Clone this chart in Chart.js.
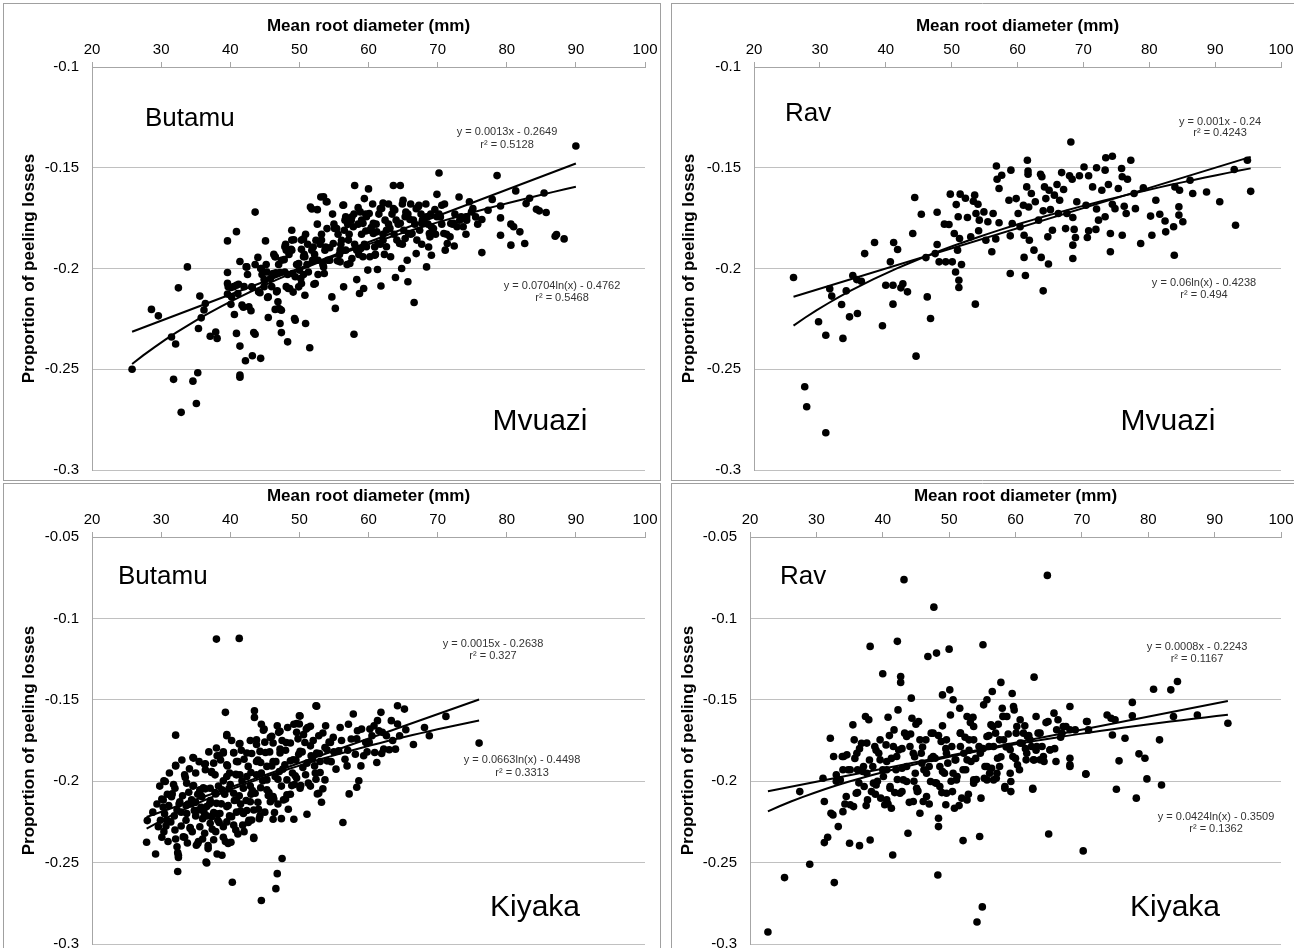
<!DOCTYPE html>
<html>
<head>
<meta charset="utf-8">
<script src="https://cdn.jsdelivr.net/npm/chart.js@4.4.1/dist/chart.umd.min.js"></script>
<style>
html, body { margin: 0; padding: 0; background: #fff; }
body { width: 1294px; height: 948px; position: relative; overflow: hidden; }
.panel { position: absolute; }
</style>
</head>
<body>
<div class="panel" style="left:3px;top:3px"><canvas id="c1" width="658" height="478"></canvas></div>
<div class="panel" style="left:671px;top:3px"><canvas id="c2" width="623" height="478"></canvas></div>
<div class="panel" style="left:3px;top:483px"><canvas id="c3" width="658" height="465"></canvas></div>
<div class="panel" style="left:671px;top:483px"><canvas id="c4" width="623" height="465"></canvas></div>
<script>
// x ticks, y ticks
var xTicks = [20, 30, 40, 50, 60, 70, 80, 90, 100]
var yTicksMvuazi = [-0.3, -0.25, -0.2, -0.15, -0.1]
var yTicksKiyaka = [-0.3, -0.25, -0.2, -0.15, -0.1, -0.05]

// trendline coefficients read from the equations [a, b]
var linMvuaziButamu = [0.0013, -0.2649], logMvuaziButamu = [0.0704, -0.4762]
var linMvuaziRav = [0.001, -0.24], logMvuaziRav = [0.06, -0.4238]
var linKiyakaButamu = [0.0015, -0.2638], logKiyakaButamu = [0.0663, -0.4498]
var linKiyakaRav = [0.0008, -0.2243], logKiyakaRav = [0.0424, -0.3509]

// [mean root diameter, proportion of peeling losses]
var mvuaziButamu = [
[25.8,-0.250],[28.6,-0.2203],[29.6,-0.2235],[31.5,-0.234],[32.1,-0.2375],[31.8,-0.255],[32.9,-0.2714],[32.5,-0.2096],[33.8,-0.1992],[34.6,-0.2559],
[35.3,-0.2517],[35.1,-0.267],[35.6,-0.2137],[35.8,-0.2245],[35.4,-0.2298],[36.4,-0.2174],[36.2,-0.2206],[37.1,-0.2336],[37.9,-0.2315],[38.1,-0.2347],
[39.6,-0.1863],[39.6,-0.202],[39.6,-0.2074],[40.1,-0.2094],[39.6,-0.2127],[40.1,-0.2178],[40.9,-0.1817],[41.2,-0.2078],[41.1,-0.2124],[40.6,-0.2228],
[40.9,-0.2322],[41.4,-0.2385],[41.4,-0.2529],[41.4,-0.254],[41.4,-0.1965],[42.3,-0.1992],[41.9,-0.2192],[42.7,-0.219],[43.0,-0.221],[42.2,-0.2458],
[43.2,-0.2433],[43.4,-0.2318],[43.6,-0.2326],[43.6,-0.172],[44.0,-0.1945],[44.3,-0.212],[43.2,-0.2094],[44.4,-0.2446],[44.4,-0.2],[45.1,-0.1863],
[44.9,-0.2055],[45.4,-0.2144],[45.5,-0.2243],[45.8,-0.205],[46.5,-0.1942],[46.6,-0.2021],[46.8,-0.2111],[46.9,-0.2165],[46.5,-0.2203],[47.2,-0.2203],
[47.2,-0.2273],[47.4,-0.2318],[47.8,-0.1956],[47.2,-0.202],[48.1,-0.1909],[48.3,-0.2364],[48.6,-0.2099],[48.9,-0.181],[49.2,-0.1857],[48.8,-0.1905],
[49.0,-0.2025],[49.3,-0.2248],[49.1,-0.2117],[49.9,-0.2091],[50.0,-0.2008],[50.2,-0.205],[50.3,-0.1905],[50.6,-0.1942],[50.6,-0.1853],[50.8,-0.2133],
[50.9,-0.2273],[51.5,-0.2393],[51.6,-0.1695],[51.8,-0.1705],[52.0,-0.1893],[52.1,-0.2078],[51.9,-0.1959],[52.4,-0.186],[52.6,-0.1708],[53.1,-0.1645],
[53.5,-0.1992],[53.6,-0.2025],[53.8,-0.1893],[53.9,-0.1669],[54.0,-0.1802],[54.1,-0.1959],[54.4,-0.1897],[54.7,-0.2141],[55.2,-0.2198],[55.4,-0.1802],
[55.5,-0.1962],[56.1,-0.186],[56.3,-0.1686],[56.5,-0.181],[56.4,-0.2091],[56.7,-0.1744],[56.7,-0.1909],[57.0,-0.1781],[57.3,-0.1975],[57.5,-0.176],
[58.0,-0.1588],[57.9,-0.2326],[58.3,-0.2055],[58.5,-0.1698],[58.7,-0.2124],[58.9,-0.1901],[59.0,-0.176],[59.3,-0.2099],[59.4,-0.1653],[59.6,-0.1814],
[60.0,-0.1605],[60.1,-0.1727],[59.9,-0.2008],[60.2,-0.1942],[60.4,-0.1797],[60.7,-0.1826],[60.9,-0.1893],[61.3,-0.2005],[61.7,-0.1703],[61.8,-0.2087],
[62.1,-0.1675],[62.1,-0.186],[62.6,-0.181],[63.2,-0.1942],[63.6,-0.1588],[63.6,-0.1703],[63.9,-0.2045],[64.0,-0.176],[64.6,-0.1588],[64.5,-0.1876],
[64.8,-0.2],[65.0,-0.1661],[65.1,-0.181],[65.4,-0.172],[65.6,-0.1959],[65.7,-0.2066],[66.0,-0.1757],[66.3,-0.1826],[66.6,-0.2169],[66.9,-0.1926],
[66.9,-0.1703],[67.3,-0.1686],[67.4,-0.181],[67.8,-0.176],[68.4,-0.1992],[68.7,-0.1893],[68.8,-0.1826],[69.1,-0.1934],[69.4,-0.1802],[69.6,-0.1708],
[69.9,-0.1632],[70.2,-0.1526],[70.4,-0.1744],[70.6,-0.1686],[70.9,-0.1826],[71.1,-0.1909],[71.4,-0.1876],[71.9,-0.1777],[72.4,-0.1888],[72.8,-0.1793],
[73.1,-0.1645],[73.4,-0.1744],[73.7,-0.1793],[74.2,-0.176],[74.6,-0.1669],[75.1,-0.1703],[75.5,-0.1744],[76.4,-0.1921],[76.4,-0.1757],[77.3,-0.1711],
[77.9,-0.1657],[78.6,-0.1539],[79.1,-0.169],[79.1,-0.1835],[79.1,-0.1749],[80.6,-0.178],[81.0,-0.1793],[80.6,-0.1884],[81.3,-0.1615],[81.9,-0.1818],
[82.6,-0.1876],[82.8,-0.1678],[83.3,-0.1651],[84.3,-0.1706],[84.7,-0.1714],[85.4,-0.1625],[85.7,-0.1722],[87.0,-0.184],[87.2,-0.1831],[88.3,-0.1853],
[90.0,-0.1392],
[53.5,-0.1644],[54.0,-0.1669],[55.1,-0.1801],[56.4,-0.1685],[56.6,-0.176],[57.6,-0.1743],[57.8,-0.1793],[58.8,-0.1719],[59.2,-0.1776],[59.7,-0.1743],
[60.2,-0.181],[60.7,-0.1776],[61.2,-0.1818],[61.9,-0.1702],[62.4,-0.176],[63.1,-0.1801],[63.8,-0.171],[64.6,-0.1776],[65.3,-0.1743],[65.8,-0.1826],
[66.5,-0.176],[67.2,-0.1694],[67.7,-0.1776],[68.4,-0.1743],[69.1,-0.1793],[69.9,-0.1743],[53.7,-0.1909],[54.9,-0.1876],[55.9,-0.1909],[57.1,-0.1859],
[58.3,-0.1909],[59.7,-0.1892],[61.4,-0.1876],[62.6,-0.1892],[64.1,-0.1859],[65.3,-0.1851],[67.0,-0.1859],[68.9,-0.1843],[54.4,-0.1959],[55.9,-0.1967],
[57.6,-0.195],[59.2,-0.1942],[60.9,-0.1934],[72.3,-0.1776],[73.2,-0.176],[74.2,-0.1743],[74.9,-0.1719],[71.8,-0.1843],
[39.7,-0.2091],[40.2,-0.2141],[40.9,-0.2083],[41.7,-0.2182],[42.4,-0.1992],[43.1,-0.2091],[44.1,-0.2116],[44.5,-0.2],[45.0,-0.2058],[45.5,-0.2141],
[46.2,-0.2025],[46.7,-0.2116],[47.0,-0.2199],[47.4,-0.1959],[47.9,-0.2017],[48.4,-0.2099],[48.9,-0.1909],[49.4,-0.2041],[49.9,-0.1975],[50.3,-0.2075],
[50.8,-0.1942],[51.3,-0.2017],[51.8,-0.1909],[52.3,-0.2075],[52.7,-0.1959],[53.2,-0.1859],[48.9,-0.1859],[50.3,-0.1859],[47.9,-0.1892],[46.5,-0.1942],
[45.3,-0.2017],[47.4,-0.2207],[49.4,-0.2257],
[60.6,-0.168],[62.9,-0.168],[64.9,-0.168],[66.1,-0.168],[68.3,-0.168],[71.0,-0.168],
[54.8,-0.173],[57.9,-0.173],[59.6,-0.173],[61.5,-0.173],[63.4,-0.173],[65.7,-0.173],[67.6,-0.173],[69.0,-0.173],[70.2,-0.173],[72.5,-0.173],
[52.6,-0.178],[55.0,-0.178],[58.5,-0.178],[61.1,-0.178],[62.9,-0.178],[64.3,-0.178],[66.7,-0.178],[68.6,-0.178],[70.6,-0.178],[72.2,-0.178],[75.8,-0.178],
[50.9,-0.183],[53.2,-0.183],[55.6,-0.183],[57.2,-0.183],[59.0,-0.183],[62.1,-0.183],[63.7,-0.183],[66.1,-0.183],[69.7,-0.183],[71.3,-0.183],[74.1,-0.183],
[48.0,-0.188],[51.2,-0.188],[53.0,-0.188],[56.0,-0.188],[58.0,-0.188],[59.4,-0.188],[61.7,-0.188],[64.9,-0.188],[67.7,-0.188],
[46.3,-0.193],[48.5,-0.193],[50.7,-0.193],[52.2,-0.193],[55.8,-0.193],[58.6,-0.193],[61.0,-0.193],[62.3,-0.193],
[43.6,-0.198],[45.2,-0.198],[47.0,-0.198],[49.6,-0.198],[51.1,-0.198],[53.4,-0.198],[56.9,-0.198],
[42.5,-0.203],[44.6,-0.203],[46.2,-0.203],[48.3,-0.203],[50.6,-0.203],[52.7,-0.203],
[40.5,-0.209],[42.0,-0.209],[44.9,-0.209],[46.0,-0.209],[48.1,-0.209]
]

var mvuaziRav = [
[26.0,-0.2045],[27.7,-0.2587],[28.0,-0.2686],[30.9,-0.2815],[31.5,-0.2101],[31.8,-0.2137],[29.8,-0.2264],[30.9,-0.2331],[33.3,-0.2179],[33.5,-0.2347],
[34.0,-0.2111],[34.5,-0.224],[35.0,-0.2035],[35.7,-0.2223],[35.6,-0.2055],[36.3,-0.2063],[36.8,-0.1926],[38.3,-0.1871],[39.5,-0.2284],[40.0,-0.2083],
[40.7,-0.1967],[41.1,-0.2083],[41.1,-0.2177],[41.2,-0.1871],[41.8,-0.1906],[42.3,-0.2096],[42.6,-0.2076],[43.3,-0.2116],[44.1,-0.1826],[44.4,-0.1648],
[44.6,-0.2435],[45.4,-0.1731],[46.1,-0.1946],[46.3,-0.2141],[46.8,-0.2248],[47.8,-0.1721],[47.8,-0.1881],[47.5,-0.1926],[48.1,-0.1967],[48.9,-0.178],
[49.1,-0.1967],[49.6,-0.1782],[49.8,-0.1631],[50.1,-0.1967],[50.4,-0.1826],[50.6,-0.2017],[50.7,-0.1683],[50.9,-0.1909],[51.0,-0.1743],[51.2,-0.1851],
[51.1,-0.2058],[51.1,-0.2094],[51.3,-0.1631],[51.5,-0.198],[52.1,-0.1651],[52.4,-0.1747],[52.9,-0.1843],[53.3,-0.1666],[53.5,-0.1636],[53.6,-0.2177],
[53.7,-0.1727],[54.0,-0.1681],[54.1,-0.1813],[54.2,-0.176],[54.9,-0.1719],[55.2,-0.186],[55.5,-0.1768],[56.1,-0.1917],[56.3,-0.1727],[56.7,-0.1853],
[56.8,-0.1491],[56.9,-0.1557],[57.2,-0.1603],[57.6,-0.1537],[57.2,-0.1773],[58.7,-0.1661],[58.9,-0.1838],[59.0,-0.1512],[58.9,-0.2025],[59.2,-0.1777],
[59.8,-0.1653],[60.1,-0.1727],[60.4,-0.1793],[60.9,-0.1686],[61.0,-0.1835],[61.0,-0.1945],[61.2,-0.2035],[61.4,-0.1595],[61.5,-0.1463],[61.6,-0.1516],
[61.6,-0.1532],[61.7,-0.1695],[61.8,-0.186],[62.1,-0.1628],[62.5,-0.1909],[62.7,-0.1669],[63.2,-0.176],[63.5,-0.1532],[63.6,-0.1945],[63.7,-0.1545],
[63.9,-0.1714],[63.9,-0.2111],[64.1,-0.1595],[64.3,-0.1653],[64.6,-0.1843],[64.7,-0.1978],[64.8,-0.1612],[65.0,-0.1708],[65.3,-0.181],[65.6,-0.1636],
[66.0,-0.1583],[66.2,-0.1727],[66.4,-0.1661],[66.7,-0.1524],[67.0,-0.1608],[67.3,-0.1802],[67.5,-0.1727],[67.9,-0.154],[68.1,-0.1372],[68.3,-0.1557],
[68.4,-0.1747],[68.4,-0.1884],[68.4,-0.195],[68.6,-0.1806],[68.8,-0.1846],[69.0,-0.1669],[69.4,-0.154],[70.1,-0.1496],[70.4,-0.1686],[70.6,-0.1846],
[70.8,-0.154],[70.8,-0.1813],[71.4,-0.1595],[71.9,-0.1806],[72.0,-0.1705],[72.0,-0.15],[72.3,-0.176],[72.8,-0.1612],[73.3,-0.1743],[73.3,-0.1512],
[73.4,-0.145],[73.8,-0.1583],[74.1,-0.1826],[74.1,-0.1917],[74.4,-0.1443],[74.4,-0.1681],[74.8,-0.1703],[75.3,-0.1603],[75.8,-0.1504],[75.9,-0.1545],
[75.9,-0.1835],[76.2,-0.1691],[76.5,-0.1727],[76.7,-0.1557],[77.2,-0.1463],[77.7,-0.1628],[77.9,-0.1703],[78.7,-0.1876],[79.1,-0.16],[80.2,-0.174],
[80.4,-0.1835],[81.0,-0.1661],[81.6,-0.1731],[82.4,-0.1764],[82.5,-0.1818],[83.7,-0.1793],[83.8,-0.1934],[83.9,-0.1595],[84.5,-0.1694],[84.5,-0.1735],
[84.6,-0.1612],[85.1,-0.1768],[86.2,-0.1562],[86.6,-0.1628],[88.7,-0.162],[90.7,-0.1669],[92.9,-0.1509],[93.1,-0.1785],[94.9,-0.1463],[95.4,-0.1617]
]

var kiyakaButamu = [
[27.9,-0.2375],[28.0,-0.2242],[29.2,-0.2447],[30.1,-0.2344],[30.4,-0.1998],[30.1,-0.2109],[30.3,-0.216],[30.7,-0.2275],[31.9,-0.2213],[32.1,-0.1717],
[32.1,-0.1906],[31.6,-0.2078],[32.1,-0.2355],[32.4,-0.2439],[32.5,-0.2469],[32.4,-0.2555],[32.6,-0.2139],[32.9,-0.2275],[33.4,-0.2344],[33.5,-0.1977],
[33.6,-0.2149],[34.0,-0.2068],[34.2,-0.2285],[34.4,-0.2139],[34.6,-0.1855],[34.7,-0.2027],[35.0,-0.2213],[35.3,-0.2383],[35.6,-0.2068],[35.8,-0.216],
[36.0,-0.2355],[36.3,-0.1896],[36.4,-0.2047],[36.5,-0.2496],[36.6,-0.2213],[36.8,-0.2396],[37.1,-0.2119],[37.3,-0.1947],[37.4,-0.2295],[37.6,-0.2193],
[37.9,-0.2078],[38.0,-0.1127],[38.1,-0.2447],[38.4,-0.1842],[38.4,-0.2254],[38.7,-0.2139],[39.0,-0.1998],[39.0,-0.2344],[39.3,-0.1577],[39.5,-0.1721],
[39.6,-0.1906],[39.8,-0.2047],[39.9,-0.2213],[40.1,-0.2375],[40.3,-0.2621],[40.5,-0.1824],[40.6,-0.2119],[40.8,-0.1957],[41.1,-0.2324],[41.3,-0.1123],
[41.4,-0.1768],[41.5,-0.2182],[41.7,-0.1998],[42.0,-0.1865],[42.3,-0.2119],[42.6,-0.2254],[43.0,-0.1947],[43.2,-0.2057],[43.4,-0.2344],[43.5,-0.1567],
[43.5,-0.1608],[43.8,-0.1775],[44.1,-0.2172],[44.3,-0.2213],[44.4,-0.1885],[44.5,-0.2733],[44.7,-0.1998],[44.9,-0.168],[45.1,-0.1824],[45.5,-0.2088],
[45.8,-0.1731],[46.0,-0.1906],[46.2,-0.2234],[46.3,-0.2109],[46.4,-0.2193],[46.6,-0.266],[46.8,-0.2568],[46.9,-0.1988],[47.0,-0.17],[47.2,-0.1803],
[47.4,-0.223],[47.5,-0.2475],[47.6,-0.1926],[48.0,-0.2109],[48.1,-0.1762],[48.4,-0.2172],[48.7,-0.1875],[48.9,-0.2027],[49.2,-0.2234],[49.4,-0.1967],
[49.6,-0.17],[49.9,-0.1834],[50.0,-0.1649],[50.0,-0.1598],[50.2,-0.2027],[50.5,-0.1916],[50.8,-0.1762],[51.1,-0.2203],[51.2,-0.167],[51.6,-0.1783],
[51.7,-0.1844],[52.2,-0.1906],[52.4,-0.1537],[52.4,-0.1988],[52.6,-0.2078],[52.8,-0.1721],[53.0,-0.1947],[53.2,-0.2129],[53.4,-0.2047],[53.7,-0.1793],
[54.0,-0.1875],[54.5,-0.1762],[54.9,-0.1731],[55.3,-0.1926],[55.7,-0.1814],[56.3,-0.2254],[56.6,-0.1865],[56.9,-0.1906],[57.2,-0.2078],[57.5,-0.1741],
[57.8,-0.1587],[58.1,-0.1834],[58.3,-0.2037],[58.4,-0.169],[58.6,-0.1998],[58.9,-0.1906],[59.3,-0.1844],[59.6,-0.1762],[60.2,-0.168],[60.5,-0.1721],
[60.9,-0.1824],[61.2,-0.1885],[61.3,-0.1628],[61.5,-0.169],[61.8,-0.1577],[62.2,-0.1803],[62.6,-0.1721],[63.0,-0.1807],[63.3,-0.1628],[63.9,-0.1803],
[64.2,-0.1537],[64.2,-0.1649],[64.5,-0.1721],[65.2,-0.1557],[65.4,-0.1684],[66.5,-0.1775],[68.1,-0.167],[68.8,-0.1721],[71.2,-0.1602],[76.0,-0.1766],
[50.1,-0.16],[52.5,-0.1539],[51.6,-0.1663],[49.6,-0.1646],[47.2,-0.1693],[44.8,-0.1687],[43.8,-0.1745],[39.5,-0.1714],[41.3,-0.1772],[46.0,-0.1724],
[46.2,-0.1765],[48.7,-0.1765],[50.6,-0.1714],[53.4,-0.1704],[54.0,-0.1807],[38.0,-0.1796],[38.1,-0.1844],[39.0,-0.1827],[40.5,-0.1827],[42.4,-0.1827],
[44.3,-0.1817],[47.2,-0.1827],[50.1,-0.1817],[52.5,-0.1827],[34.7,-0.1858],[36.4,-0.1893],[37.6,-0.1889],[39.5,-0.1899],[40.9,-0.1879],[42.6,-0.1909],
[43.8,-0.1879],[45.3,-0.1909],[46.2,-0.1879],[47.9,-0.1899],[49.1,-0.1868],[51.1,-0.1889],[53.0,-0.1879],[32.1,-0.1903],[34.1,-0.1924],[36.4,-0.193],
[37.8,-0.1961],[39.5,-0.1971],[40.9,-0.1961],[42.4,-0.1971],[43.8,-0.1961],[45.3,-0.1992],[46.5,-0.1971],[48.2,-0.1992],[49.6,-0.1981],[51.3,-0.2012],
[53.7,-0.1992],[30.6,-0.2002],[32.0,-0.2043],[33.7,-0.2012],[35.6,-0.2053],[37.1,-0.2043],[38.8,-0.2053],[40.5,-0.2074],[41.9,-0.2043],[43.6,-0.2074],
[45.3,-0.2053],[46.2,-0.2095],[48.2,-0.2084],[50.1,-0.2043],[52.8,-0.2074],[30.3,-0.2115],[31.5,-0.2095],[32.7,-0.2126],[34.4,-0.2115],[35.9,-0.2095],
[36.6,-0.2156],[38.0,-0.2136],[39.5,-0.2156],[40.9,-0.2115],[42.9,-0.2126],[43.4,-0.2177],[45.8,-0.2126],[47.7,-0.2115],[32.3,-0.2177],[33.7,-0.2198],
[35.4,-0.2177],[37.3,-0.2218],[38.5,-0.2198],[40.2,-0.2218],[41.9,-0.2198],[43.1,-0.2239],[30.8,-0.2239],[29.6,-0.228],[34.2,-0.229],[35.6,-0.228],
[37.1,-0.2259],[39.0,-0.228],[40.5,-0.227],[41.8,-0.227],[33.2,-0.2342],[35.1,-0.2393],[36.8,-0.2414],[39.7,-0.2383],[32.3,-0.2403],[32.5,-0.2455],
[38.8,-0.2455],[36.6,-0.2502],[43.4,-0.2352],
[44.5,-0.165],[46.8,-0.166],[48.3,-0.167],[49.2,-0.165],[51.0,-0.168],[53.8,-0.166],[55.9,-0.167],[57.1,-0.165],[59.0,-0.168],[60.8,-0.166],[62.0,-0.17],
[40.2,-0.175],[42.9,-0.175],[45.0,-0.176],[47.5,-0.175],[49.8,-0.174],[52.0,-0.175],[54.3,-0.176],[56.1,-0.175],[58.3,-0.174],[60.1,-0.176],[63.5,-0.175],
[36.9,-0.182],[39.0,-0.182],[41.6,-0.181],[43.1,-0.183],[45.7,-0.182],[48.0,-0.181],[50.4,-0.182],[52.9,-0.183],[55.0,-0.182],[57.0,-0.181],[59.8,-0.182],[61.9,-0.183],
[33.0,-0.187],[35.5,-0.188],[38.6,-0.187],[41.1,-0.188],[44.0,-0.187],[46.6,-0.188],[49.5,-0.187],[51.9,-0.186],[54.6,-0.188],
[31.2,-0.195],[33.4,-0.196],[35.0,-0.195],[37.3,-0.194],[39.9,-0.195],[41.4,-0.196],[44.5,-0.195],[47.1,-0.194],[49.0,-0.195],[50.9,-0.196],[52.3,-0.195],
[29.8,-0.203],[31.8,-0.202],[34.6,-0.203],[36.1,-0.204],[38.3,-0.203],[40.0,-0.202],[42.9,-0.203],[44.4,-0.204],[47.4,-0.203],[49.3,-0.202],[51.6,-0.203],
[30.9,-0.208],[33.1,-0.209],[35.3,-0.208],[37.8,-0.207],[39.2,-0.208],[41.3,-0.209],[43.0,-0.208],[45.6,-0.207],[48.7,-0.208],
[29.4,-0.214],[31.1,-0.215],[33.9,-0.214],[35.0,-0.213],[37.0,-0.214],[39.7,-0.215],[41.5,-0.214],[44.0,-0.213],[46.9,-0.214],
[28.8,-0.219],[30.5,-0.22],[32.9,-0.219],[34.8,-0.218],[36.2,-0.219],[38.0,-0.22],[40.9,-0.219],[42.4,-0.218],[45.0,-0.219],
[29.9,-0.224],[31.4,-0.225],[33.6,-0.224],[36.0,-0.223],[38.2,-0.224],[39.5,-0.225],[42.7,-0.224],[44.2,-0.223],
[30.4,-0.231],[32.0,-0.23],[34.5,-0.231],[36.3,-0.232],[37.9,-0.231],[40.8,-0.23],[42.0,-0.231],
[31.0,-0.237],[33.8,-0.238],[35.4,-0.237],[37.6,-0.236],[39.3,-0.237]
]

var kiyakaRav = [
[22.7,-0.2926],[25.2,-0.2592],[27.5,-0.2064],[29.0,-0.251],[31.0,-0.1982],[31.2,-0.2125],[31.2,-0.2377],[31.7,-0.2344],[32.1,-0.1736],[32.2,-0.2197],
[32.5,-0.2207],[32.7,-0.2623],[33.0,-0.1961],[33.3,-0.2279],[33.9,-0.1848],[34.0,-0.2187],[34.5,-0.2094],[34.6,-0.1838],[34.8,-0.193],[35.0,-0.2381],
[35.1,-0.2145],[35.5,-0.1654],[35.6,-0.2156],[35.7,-0.1746],[36.0,-0.2074],[36.2,-0.193],[36.5,-0.2396],[36.8,-0.1767],[37.1,-0.191],[37.2,-0.2033],
[37.4,-0.1603],[37.7,-0.2115],[37.9,-0.1623],[38.1,-0.2361],[38.1,-0.1172],[38.3,-0.2064],[38.5,-0.191],[38.8,-0.1787],[39.0,-0.2023],[39.4,-0.1828],
[39.7,-0.2104],[40.0,-0.134],[40.1,-0.1971],[40.3,-0.2145],[40.5,-0.1777],[40.6,-0.1879],[40.8,-0.1607],[41.1,-0.2043],[41.3,-0.2166],[41.5,-0.2453],
[41.7,-0.1685],[42.0,-0.193],[42.2,-0.1141],[42.3,-0.1562],[42.4,-0.1808],[42.7,-0.1357],[42.7,-0.1393],[42.9,-0.2064],[43.2,-0.0762],[43.3,-0.1705],
[43.6,-0.2002],[43.8,-0.232],[44.1,-0.1787],[44.3,-0.149],[44.4,-0.1613],[44.6,-0.2125],[44.9,-0.1951],[45.2,-0.2064],[45.4,-0.1633],[45.6,-0.2197],
[45.8,-0.1828],[46.1,-0.2125],[46.5,-0.1746],[46.8,-0.1234],[47.0,-0.191],[47.2,-0.2002],[47.3,-0.1705],[47.7,-0.0931],[47.9,-0.1859],[48.1,-0.1213],
[48.3,-0.2576],[48.4,-0.2228],[48.4,-0.2279],[48.6,-0.2033],[48.8,-0.1756],[49.0,-0.147],[49.3,-0.1951],[49.5,-0.2145],[49.8,-0.1889],[50.0,-0.1189],
[50.1,-0.1439],[50.2,-0.1593],[50.4,-0.1787],[50.5,-0.2064],[50.6,-0.15],[50.8,-0.2166],[51.0,-0.1869],[51.1,-0.1992],[51.6,-0.1552],[51.7,-0.1705],
[51.9,-0.2104],[52.1,-0.2365],[52.2,-0.1828],[52.5,-0.193],[52.7,-0.1603],[53.0,-0.1746],[53.3,-0.1879],[53.6,-0.1607],[53.7,-0.2012],[54.2,-0.2865],
[54.5,-0.1787],[54.6,-0.234],[54.8,-0.2104],[55.0,-0.2772],[55.1,-0.1162],[55.2,-0.1531],[55.3,-0.1982],[55.4,-0.191],[55.7,-0.15],[56.0,-0.1787],
[56.3,-0.1654],[56.5,-0.1449],[56.7,-0.1992],[57.0,-0.1705],[57.3,-0.1859],[57.8,-0.1393],[58.0,-0.1552],[58.2,-0.1746],[58.4,-0.2043],[58.7,-0.1603],
[59.0,-0.1787],[59.3,-0.2002],[59.6,-0.1848],[59.5,-0.1461],[59.8,-0.1562],[60.1,-0.1705],[60.3,-0.19],[60.7,-0.1623],[61.0,-0.1767],[61.6,-0.1869],
[61.8,-0.1726],[62.4,-0.1787],[62.6,-0.2049],[62.8,-0.1361],[63.1,-0.1603],[63.4,-0.1705],[63.7,-0.1869],[64.0,-0.1787],[64.3,-0.1879],[64.8,-0.0736],
[65.0,-0.2324],[64.9,-0.1633],[65.2,-0.1808],[65.8,-0.1582],[66.1,-0.1879],[66.4,-0.1623],[67.0,-0.1705],[67.6,-0.1664],[68.2,-0.1541],[68.2,-0.1859],
[68.2,-0.19],[69.0,-0.1685],[70.2,-0.2428],[70.6,-0.1955],[70.8,-0.1633],[71.0,-0.1685],[73.8,-0.1593],[74.4,-0.1613],[74.6,-0.1716],[75.0,-0.1623],
[75.2,-0.2049],[75.6,-0.1875],[76.5,-0.1736],[77.6,-0.1516],[77.6,-0.1598],[78.2,-0.2104],[78.6,-0.1832],[79.5,-0.1859],[79.8,-0.1986],[80.8,-0.1435],
[81.7,-0.1746],[82.0,-0.2023],[83.4,-0.1439],[83.8,-0.1603],[84.4,-0.1388],[87.4,-0.1593],[92.0,-0.1644],
[39.6,-0.1869],[40.6,-0.193],[42.1,-0.1848],[43.6,-0.191],[44.6,-0.1828],[45.9,-0.1889],[46.6,-0.1951],[47.6,-0.1848],[48.6,-0.191],[49.6,-0.1828],
[50.6,-0.1951],[51.7,-0.1787],[52.7,-0.1869],[53.7,-0.1746],[54.7,-0.1828],[55.7,-0.191],[56.7,-0.1787],[37.6,-0.1951],[38.6,-0.2012],[41.1,-0.2033],
[43.1,-0.1992],[45.1,-0.2043],[48.1,-0.2012],[51.2,-0.1971],[53.7,-0.1992],[35.1,-0.193],[36.1,-0.1828],[37.6,-0.1766],[39.6,-0.1746],[41.6,-0.1787],
[43.6,-0.1725],[45.6,-0.1746],[47.6,-0.1705],[49.6,-0.1746],[51.7,-0.1705],[53.7,-0.1664],[55.7,-0.1725],[33.6,-0.1992],[32.6,-0.1848],[34.1,-0.1848],
[40.6,-0.2115],[42.6,-0.2074],[46.6,-0.2094],[49.6,-0.2074],[52.7,-0.2115],[55.7,-0.1992],[57.2,-0.1951],
[56.6,-0.1664],[57.6,-0.1746],[58.1,-0.1602],[59.2,-0.1807],[59.7,-0.1541],[60.2,-0.1664],[60.7,-0.1766],[61.2,-0.1705],[61.7,-0.1828],[62.2,-0.1746],
[62.7,-0.1869],[63.2,-0.1787],[63.7,-0.1705],[64.2,-0.1848],[65.2,-0.1807],[66.2,-0.1684],[67.2,-0.1664],[68.2,-0.1684],[57.6,-0.191],[59.2,-0.1951],
[57.1,-0.1982],[56.1,-0.1951],[58.4,-0.2033],[59.3,-0.2064],[62.6,-0.2043],[68.2,-0.191],[70.7,-0.1633],[70.6,-0.1957],
[45.0,-0.165],[49.0,-0.166],[53.2,-0.164],[57.4,-0.165],[61.4,-0.166],[64.6,-0.164],
[41.0,-0.172],[44.2,-0.171],[48.4,-0.172],[52.4,-0.173],[56.0,-0.172],[58.9,-0.171],[62.0,-0.172],[66.8,-0.173],
[36.5,-0.18],[39.0,-0.181],[42.9,-0.18],[46.0,-0.179],[49.5,-0.18],[53.0,-0.181],[55.1,-0.18],[58.6,-0.179],[61.5,-0.18],[63.1,-0.181],[65.9,-0.18],
[35.8,-0.186],[38.0,-0.187],[41.3,-0.186],[44.8,-0.185],[47.3,-0.186],[50.9,-0.187],[54.0,-0.186],[57.8,-0.185],[60.0,-0.186],[62.8,-0.187],
[34.0,-0.193],[37.0,-0.194],[40.0,-0.193],[42.9,-0.192],[46.2,-0.193],[49.0,-0.194],[52.1,-0.193],[56.4,-0.192],[60.6,-0.193],
[33.0,-0.2],[36.4,-0.201],[39.2,-0.2],[42.2,-0.199],[44.7,-0.2],[47.9,-0.201],[50.3,-0.2],[54.1,-0.199],
[36.2,-0.207],[38.9,-0.208],[41.8,-0.207],[45.3,-0.206],[48.9,-0.207],[52.9,-0.208],
[34.3,-0.214],[37.5,-0.215],[40.8,-0.214],[44.0,-0.213],[47.0,-0.214],[51.5,-0.215]
]

var FONT = '"Liberation Sans", Arial, Helvetica, sans-serif'
Chart.defaults.font.family = FONT
Chart.defaults.color = '#000'

function linLine(coef, pts) {
    var xs = pts.map(p => p[0])
    var a = Math.min.apply(null, xs), b = Math.max.apply(null, xs)
    return [{ x: a, y: coef[0] * a + coef[1] }, { x: b, y: coef[0] * b + coef[1] }]
}

function logLine(coef, pts) {
    var xs = pts.map(p => p[0])
    var a = Math.min.apply(null, xs), b = Math.max.apply(null, xs)
    var out = []
    for (var i = 0; i <= 40; i++) {
        var x = a + (b - a) * i / 40
        out.push({ x: x, y: coef[0] * Math.log(x) + coef[1] })
    }
    return out
}

function decoPlugin(deco) {
    return {
        id: 'deco',
        afterDraw(chart) {
            var ctx = chart.ctx, w = chart.width, h = chart.height
            ctx.save()
            ctx.strokeStyle = '#a0a0a0'
            ctx.lineWidth = 1
            ctx.beginPath()
            if (deco.sides.indexOf('t') >= 0) { ctx.moveTo(0, 0.5); ctx.lineTo(w, 0.5) }
            if (deco.sides.indexOf('l') >= 0) { ctx.moveTo(0.5, 0); ctx.lineTo(0.5, h) }
            if (deco.sides.indexOf('r') >= 0) { ctx.moveTo(w - 0.5, 0); ctx.lineTo(w - 0.5, h) }
            if (deco.sides.indexOf('b') >= 0) { ctx.moveTo(0, h - 0.5); ctx.lineTo(w, h - 0.5) }
            ctx.stroke()
            deco.texts.forEach(t => {
                ctx.font = t[3] + 'px ' + FONT
                ctx.fillStyle = t[5] || '#000'
                ctx.textAlign = t[4]
                ctx.textBaseline = t[4] == 'left' || t[3] > 20 ? 'alphabetic' : 'middle'
                ctx.fillText(t[0], t[1], t[2])
            })
            ctx.restore()
        }
    }
}

function makePanel(id, pts, lin, log, yTicks, L, deco) {
    var ctx = document.getElementById(id).getContext('2d')
    return new Chart(ctx, {
        type: 'scatter',
        data: {
            datasets: [
                { type: 'line', data: linLine(lin, pts), borderColor: '#000', borderWidth: 2, pointRadius: 0, fill: false },
                { type: 'line', data: logLine(log, pts), borderColor: '#000', borderWidth: 2, pointRadius: 0, fill: false },
                { data: pts.map(p => ({ x: p[0], y: p[1] })), backgroundColor: '#000', borderWidth: 0, pointRadius: 3.8 }
            ]
        },
        options: {
            responsive: false,
            animation: false,
            devicePixelRatio: 1,
            events: [],
            layout: { padding: { left: 0, top: 0, right: L.pr, bottom: L.pb } },
            plugins: { legend: { display: false }, tooltip: { enabled: false } },
            scales: {
                x: {
                    type: 'linear', position: 'top', min: 20, max: 100,
                    afterBuildTicks: s => { s.ticks = xTicks.map(v => ({ value: v })) },
                    afterFit: s => { s.height = L.xh; s.paddingLeft = 0; s.paddingRight = 0 },
                    grid: { drawOnChartArea: false, drawTicks: true, tickLength: 5, color: '#a6a6a6' },
                    border: { display: true, color: '#a6a6a6' },
                    ticks: { font: { size: 15 }, padding: L.xtp, maxRotation: 0, autoSkip: false },
                    title: { display: true, text: 'Mean root diameter (mm)', font: { size: 17, weight: 'bold' }, padding: { top: L.xt, bottom: 0 } }
                },
                y: {
                    min: yTicks[0], max: yTicks[yTicks.length - 1],
                    afterBuildTicks: s => { s.ticks = yTicks.map(v => ({ value: v })) },
                    afterFit: s => { s.width = L.yw; s.paddingTop = 0; s.paddingBottom = 0 },
                    grid: { color: '#c0c0c0', lineWidth: 1, drawTicks: false },
                    border: { display: true, color: '#a6a6a6' },
                    ticks: { font: { size: 15 }, padding: 13, callback: v => String(+(+v).toFixed(2)) },
                    title: { display: true, text: 'Proportion of peeling losses', font: { size: 17, weight: 'bold' }, padding: { top: L.yt, bottom: 0 } }
                }
            }
        },
        plugins: [decoPlugin(deco)]
    })
}

makePanel('c1', mvuaziButamu, linMvuaziButamu, logMvuaziButamu, yTicksMvuazi,
    { pr: 16, pb: 11, xh: 64, yw: 89, xtp: 3.5, xt: 12.8, yt: 16.3 },
    { sides: 'tlrb', texts: [
        ['Butamu', 142, 123, 26, 'left'],
        ['Mvuazi', 537, 427, 30, 'center'],
        ['y = 0.0013x - 0.2649', 504, 129, 11, 'center', '#333'],
        ['r\u00b2 = 0.5128', 504, 142, 11, 'center', '#333'],
        ['y = 0.0704ln(x) - 0.4762', 559, 283, 11, 'center', '#333'],
        ['r\u00b2 = 0.5468', 559, 295, 11, 'center', '#333']
    ] })

makePanel('c2', mvuaziRav, linMvuaziRav, logMvuaziRav, yTicksMvuazi,
    { pr: 13, pb: 11, xh: 64, yw: 83, xtp: 3.5, xt: 12.8, yt: 7.8 },
    { sides: 'tlb', texts: [
        ['Rav', 114, 118, 26, 'left'],
        ['Mvuazi', 497, 427, 30, 'center'],
        ['y = 0.001x - 0.24', 549, 119, 11, 'center', '#333'],
        ['r\u00b2 = 0.4243', 549, 130, 11, 'center', '#333'],
        ['y = 0.06ln(x) - 0.4238', 533, 280, 11, 'center', '#333'],
        ['r\u00b2 = 0.494', 533, 292, 11, 'center', '#333']
    ] })

makePanel('c3', kiyakaButamu, linKiyakaButamu, logKiyakaButamu, yTicksKiyaka,
    { pr: 16, pb: 3, xh: 54, yw: 89, xtp: 3, xt: 2.8, yt: 16.3 },
    { sides: 'tlr', texts: [
        ['Butamu', 115, 101, 26, 'left'],
        ['Kiyaka', 532, 433, 30, 'center'],
        ['y = 0.0015x - 0.2638', 490, 161, 11, 'center', '#333'],
        ['r\u00b2 = 0.327', 490, 173, 11, 'center', '#333'],
        ['y = 0.0663ln(x) - 0.4498', 519, 277, 11, 'center', '#333'],
        ['r\u00b2 = 0.3313', 519, 290, 11, 'center', '#333']
    ] })

makePanel('c4', kiyakaRav, linKiyakaRav, logKiyakaRav, yTicksKiyaka,
    { pr: 13, pb: 4, xh: 54, yw: 79, xtp: 3, xt: 2.8, yt: 6.8 },
    { sides: 'tl', texts: [
        ['Rav', 109, 101, 26, 'left'],
        ['Kiyaka', 504, 433, 30, 'center'],
        ['y = 0.0008x - 0.2243', 526, 164, 11, 'center', '#333'],
        ['r\u00b2 = 0.1167', 526, 176, 11, 'center', '#333'],
        ['y = 0.0424ln(x) - 0.3509', 545, 334, 11, 'center', '#333'],
        ['r\u00b2 = 0.1362', 545, 346, 11, 'center', '#333']
    ] })
</script>
</body>
</html>
